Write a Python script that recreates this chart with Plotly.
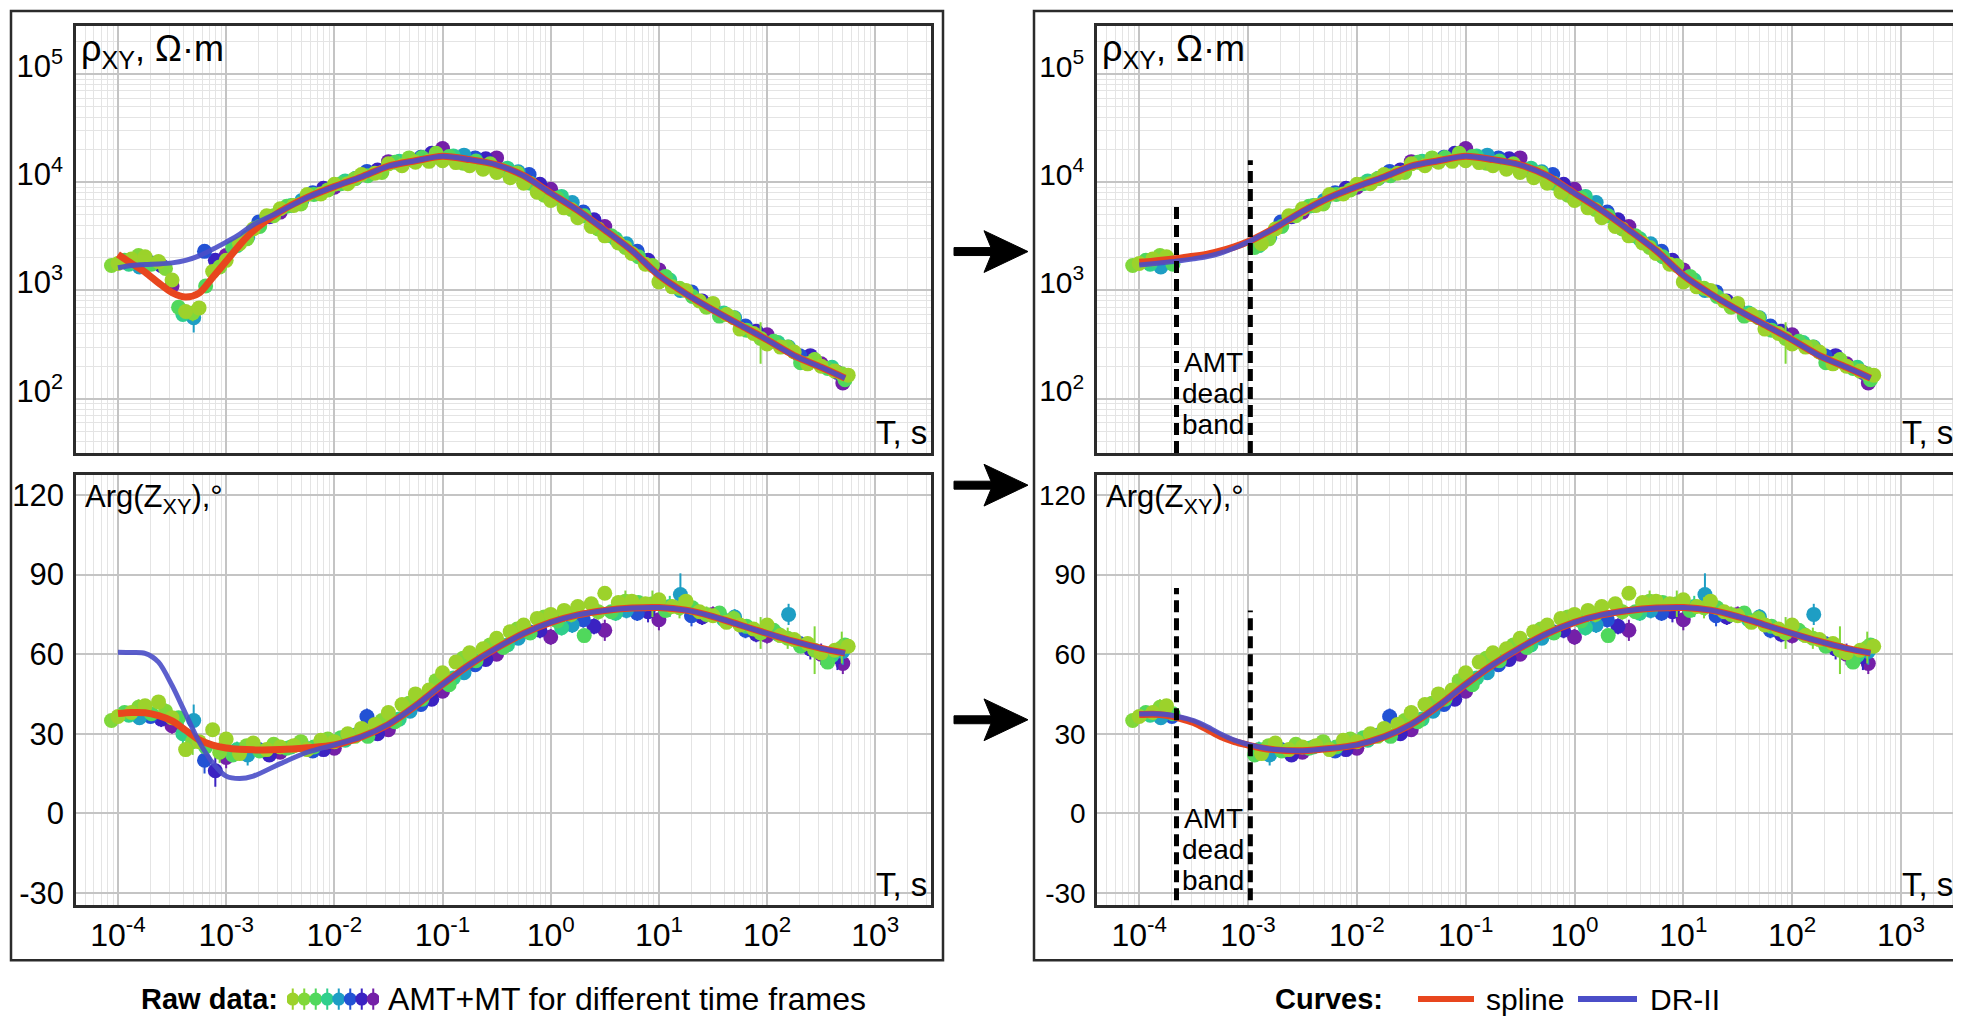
import numpy as np
import plotly.graph_objects as go

FIG_W, FIG_H = 1961, 1017
FONT = "Liberation Sans, Arial, Helvetica, sans-serif"

# ---------------- smooth curves (spline = red, DR-II = blue) ----------------
T_curve = [1.00e-4, 1.33e-4, 1.78e-4, 2.37e-4, 3.16e-4, 4.22e-4, 5.62e-4, 7.50e-4,
           1.00e-3, 1.33e-3, 1.78e-3, 3.16e-3, 5.62e-3, 1.00e-2, 1.78e-2, 3.16e-2,
           5.62e-2, 0.1, 0.178, 0.316, 0.562, 1.0, 1.78, 3.16, 5.62, 10.0, 17.8,
           31.6, 56.2, 100.0, 178.0, 316.0, 525.0]

rho_short_spline_left = [2160, 1780, 1480, 1175, 955, 870, 945, 1320, 1860, 2630, 3550]
rho_short_dr_left = [1620, 1700, 1740, 1760, 1800, 1900, 2090, 2400, 2800, 3300, 4050]
rho_short_spline_right = [1820, 1860, 1920, 1990, 2070, 2170, 2320, 2530, 2820, 3250, 3800]
rho_short_dr_right = [1720, 1770, 1820, 1880, 1960, 2060, 2220, 2470, 2800, 3250, 3800]
rho_long = [5370, 7240, 9120, 11200, 14100, 15800, 17400, 16200, 14500, 11500, 7940,
            5500, 3630, 2340, 1380, 930, 660, 480, 350, 250, 195, 155]

phi_short_spline_left = [37.6, 38.0, 37.9, 36.8, 34.8, 31.3, 27.7, 25.7, 24.6, 24.1, 23.9, 24.0, 24.7, 25.8]
phi_short_dr_left = [60.7, 60.6, 60.3, 57.0, 48.2, 37.5, 27.0, 19.0, 14.0, 13.1, 14.0, 18.7, 23.0, 25.8]
phi_short_spline_right = [37.2, 37.3, 36.9, 35.8, 34.2, 31.6, 28.9, 27.0, 25.7, 24.6, 23.9, 23.6, 24.4, 25.8]
phi_short_dr_right = [37.4, 37.5, 37.2, 36.3, 34.9, 32.6, 29.9, 27.6, 26.0, 24.8, 24.0, 23.6, 24.4, 25.8]
phi_long = [28.8, 33.5, 40.5, 48.6, 56.0, 62.3, 67.8, 72.0, 74.8, 76.5, 77.4, 77.6,
            76.6, 74.2, 71.0, 67.8, 64.8, 62.2, 60.4]

# ---------------- raw data: AMT+MT for different time frames ----------------
T1 = [1.00e-4, 1.33e-4, 1.78e-4, 2.37e-4, 3.16e-4, 4.22e-4, 5.62e-4, 7.50e-4,
      1.00e-3, 1.33e-3, 1.78e-3, 2.37e-3, 3.16e-3, 4.22e-3, 5.62e-3, 7.50e-3,
      0.0100, 0.0133, 0.0178, 0.0237, 0.0316, 0.0422, 0.0562, 0.0750,
      0.100, 0.133, 0.178, 0.237, 0.316, 0.422, 0.562, 0.750,
      1.00, 1.33, 1.78, 2.37, 3.16, 4.22, 5.62, 7.50,
      10.0, 13.3, 17.8, 23.7, 31.6, 42.2, 56.2, 75.0,
      100, 133, 178, 237, 316, 422, 562]
rho1 = [1780, 1950, 2050, 1850, 1250, 640, 690, 1500,
        1900, 2700, 3700, 4900, 5700, 6100, 7700, 7800,
        9600, 9700, 11800, 12100, 14800, 14200, 15300, 15600,
        15800, 15200, 14200, 13200, 12300, 11000, 9800, 8100,
        6800, 5800, 4700, 3900, 3200, 2750, 2200, 1750,
        1200, 1080, 1000, 800, 760, 600, 440, 400,
        320, 300, 270, 210, 200, 180, 165]
phi1 = [36.5, 38.0, 40.5, 42.0, 36.0, 24.0, 27.0, 31.5,
        28.0, 22.5, 26.5, 24.0, 25.0, 25.5, 24.0, 27.5,
        27.0, 30.0, 32.0, 33.5, 38.0, 41.0, 45.0, 46.5,
        53.0, 57.0, 60.5, 62.0, 66.0, 68.5, 71.0, 73.5,
        75.0, 76.5, 78.0, 79.0, 83.0, 79.5, 80.0, 79.0,
        80.5, 78.0, 80.0, 76.0, 74.5, 72.0, 71.0, 69.5,
        71.0, 67.0, 65.5, 64.0, 60.5, 61.5, 63.0]

T2 = [8.71e-5, 1.55e-4, 2.75e-4, 4.90e-4, 8.71e-4, 1.55e-3, 2.75e-3, 4.90e-3, 8.71e-3,
      0.0155, 0.0275, 0.0490, 0.0871, 0.155, 0.275, 0.490, 0.871, 1.55, 2.75, 4.90,
      8.71, 15.5, 27.5, 49.0, 87.1, 155, 275, 490]
rho2 = [1700, 2100, 1600, 620, 1650, 3000, 4900, 6300, 8500, 10800, 12300, 16800, 18500,
        15000, 14800, 12200, 7600, 5600, 3700, 2500, 1700, 1050, 700, 560, 360, 300, 230, 170]
phi2 = [35.0, 40.0, 38.5, 27.0, 23.0, 25.5, 26.0, 27.0, 28.0, 29.0, 35.0, 41.5, 50.0,
        58.5, 63.5, 69.5, 74.0, 75.0, 76.0, 80.0, 79.0, 77.5, 75.0, 73.5, 68.0, 66.0, 61.5, 62.5]
rho_err2 = [150, 150, 150, 100, 200, 300, 400, 500, 600, 700, 800, 900, 1000, 900, 800,
            600, 400, 300, 200, 120, 80, 50, 35, 60, 150, 25, 40, 25]
phi_err2 = [2, 3, 3, 5, 4, 2, 2, 2, 2, 2, 2, 2, 2, 2, 2, 2, 2, 3, 3, 4, 5, 4, 3, 3, 6, 4, 9, 6]

T3 = [1.15e-4, 2.04e-4, 3.63e-4, 6.46e-4, 1.15e-3, 2.04e-3, 3.63e-3, 6.46e-3, 0.0115,
      0.0204, 0.0363, 0.0646, 0.115, 0.204, 0.363, 0.646, 1.15, 2.04, 3.63, 6.46,
      11.5, 20.4, 36.3, 64.6, 115, 204, 363, 525]
rho3 = [1900, 1750, 700, 1100, 2500, 3900, 6000, 7700, 9700, 11500, 15300, 16900, 17300,
        15700, 13000, 9800, 7100, 4900, 3200, 2050, 1350, 880, 580, 430, 340, 215, 190, 150]
phi3 = [38.0, 37.5, 36.0, 25.0, 22.0, 23.5, 24.5, 25.0, 28.5, 29.0, 34.5, 43.0, 48.5,
        57.5, 62.5, 68.0, 72.5, 67.0, 76.0, 79.5, 76.5, 77.5, 75.5, 70.5, 69.0, 63.0, 57.0, 63.5]

T4 = [1.26e-4, 3.98e-4, 1.26e-3, 3.98e-3, 0.0126, 0.0398, 0.126, 0.398, 1.26, 3.98, 12.6, 39.8, 126, 398]
rho4 = [1750, 600, 2600, 6100, 10300, 15600, 17500, 13500, 7400, 3000, 1250, 620, 330, 195]
phi4 = [37.0, 30.0, 24.0, 25.0, 27.5, 35.5, 51.0, 63.5, 70.0, 75.5, 78.0, 73.0, 67.5, 59.5]
rho_err4 = [80, 60, 150, 300, 400, 600, 700, 600, 400, 150, 80, 60, 40, 30]
phi_err4 = [2, 4, 3, 2, 2, 2, 2, 2, 3, 3, 4, 3, 3, 4]

T5 = [1.58e-4, 5.01e-4, 1.58e-3, 5.01e-3, 0.0158, 0.0501, 0.158, 0.501, 1.58, 5.01, 15.8, 50.1, 158, 501]
rho5 = [1650, 560, 3100, 6800, 10900, 16200, 17800, 12500, 6500, 2700, 1000, 560, 300, 165]
phi5 = [36.0, 35.0, 22.0, 26.0, 29.5, 38.5, 53.0, 66.0, 71.0, 76.5, 82.5, 74.0, 75.0, 61.0]
rho_err5 = [100, 150, 200, 300, 400, 700, 800, 600, 300, 150, 80, 40, 30, 20]
phi_err5 = [2, 6, 4, 2, 2, 2, 2, 2, 3, 3, 8, 3, 4, 5]

T6 = [2.00e-4, 6.31e-4, 2.00e-3, 6.31e-3, 0.0200, 0.0631, 0.200, 0.631, 2.00, 6.31, 20.0, 63.1, 200]
rho6 = [1800, 2300, 4300, 8000, 12600, 17000, 16800, 11800, 5300, 2300, 970, 470, 250]
phi6 = [36.5, 20.0, 24.0, 23.5, 36.5, 41.0, 56.0, 68.5, 73.0, 75.5, 74.5, 69.0, 64.0]
rho_err6 = [100, 300, 300, 400, 500, 800, 800, 600, 300, 150, 60, 40, 25]
phi_err6 = [2, 5, 3, 2, 3, 2, 2, 2, 3, 3, 4, 3, 3]

T7 = [2.51e-4, 7.94e-4, 2.51e-3, 7.94e-3, 0.0251, 0.0794, 0.251, 0.794, 2.51, 7.94, 25.1, 79.4, 251, 447]
rho7 = [1700, 1900, 4800, 8800, 13000, 18500, 16500, 9600, 4500, 1900, 800, 420, 250, 175]
phi7 = [35.5, 16.0, 22.0, 24.0, 30.0, 43.0, 58.0, 69.0, 70.5, 76.0, 74.0, 67.5, 62.0, 59.0]
rho_err7 = [100, 250, 300, 500, 700, 900, 800, 500, 250, 100, 50, 30, 25, 20]
phi_err7 = [3, 6, 2, 2, 2, 2, 2, 3, 3, 4, 3, 3, 4, 5]

T8 = [3.16e-4, 1.00e-3, 3.16e-3, 0.0100, 0.0316, 0.100, 0.316, 1.00, 3.16, 10.0, 31.6, 100, 316, 501]
rho8 = [1100, 2100, 5300, 9000, 15500, 20500, 16800, 8600, 3900, 1550, 720, 390, 210, 140]
phi8 = [33.0, 21.0, 23.0, 24.5, 31.5, 46.0, 60.0, 66.5, 69.0, 73.0, 75.0, 67.0, 60.0, 56.5]
rho_err8 = [100, 200, 300, 500, 800, 1000, 900, 500, 250, 100, 50, 30, 20, 15]
phi_err8 = [3, 4, 2, 2, 2, 2, 2, 3, 4, 4, 3, 3, 4, 4]

frame_colors = ["#9CD22B", "#80D83A", "#50D85C", "#2FCF8C", "#1E9EC4", "#2352D4", "#3B22C2", "#7420A8"]

DEAD_BAND = (2.2e-4, 1.05e-3)   # AMT dead band, s

x_tick_vals = [1e-4, 1e-3, 1e-2, 1e-1, 1e0, 1e1, 1e2, 1e3]
x_tick_text = ["10<sup>-4</sup>", "10<sup>-3</sup>", "10<sup>-2</sup>", "10<sup>-1</sup>",
               "10<sup>0</sup>", "10<sup>1</sup>", "10<sup>2</sup>", "10<sup>3</sup>"]
rho_tick_vals = [1e2, 1e3, 1e4, 1e5]
rho_tick_text = ["10<sup>2</sup>", "10<sup>3</sup>", "10<sup>4</sup>", "10<sup>5</sup>"]
phi_tick_vals = [-30, 0, 30, 60, 90, 120]
phi_tick_text = ["-30", "0", "30", "60", "90", "120"]

# ---------------- assemble ----------------
frames = [
    dict(T=T1, rho=rho1, phi=phi1, rho_err=None, phi_err=None),
    dict(T=T2, rho=rho2, phi=phi2, rho_err=rho_err2, phi_err=phi_err2),
    dict(T=T3, rho=rho3, phi=phi3, rho_err=None, phi_err=None),
    dict(T=T4, rho=rho4, phi=phi4, rho_err=rho_err4, phi_err=phi_err4),
    dict(T=T5, rho=rho5, phi=phi5, rho_err=rho_err5, phi_err=phi_err5),
    dict(T=T6, rho=rho6, phi=phi6, rho_err=rho_err6, phi_err=phi_err6),
    dict(T=T7, rho=rho7, phi=phi7, rho_err=rho_err7, phi_err=phi_err7),
    dict(T=T8, rho=rho8, phi=phi8, rho_err=rho_err8, phi_err=phi_err8),
]

RED = "#E8461E"
BLUE = "#4B4EC8"
MAJ = "#C4C4C4"
MIN = "#E4E4E4"
DARK = "#2b2b2b"


def px_x(x):
    return x / FIG_W


def px_y(y):
    return 1 - y / FIG_H


fig = go.Figure()


def add_raw(xa_top, ya_top, xa_bot, ya_bot, exclude_dead):
    for i in reversed(range(len(frames))):
        fr = frames[i]
        col = frame_colors[i]
        keep = [k for k, t in enumerate(fr["T"])
                if not (exclude_dead and DEAD_BAND[0] < t < DEAD_BAND[1])]
        T = [fr["T"][k] for k in keep]
        for xa, ya, key, ekey in ((xa_top, ya_top, "rho", "rho_err"), (xa_bot, ya_bot, "phi", "phi_err")):
            vals = [fr[key][k] for k in keep]
            kw = {}
            if fr[ekey] is not None:
                kw["error_y"] = dict(type="data", array=[fr[ekey][k] for k in keep],
                                     color=col, thickness=2, width=0)
            fig.add_trace(go.Scatter(x=T, y=vals, mode="markers",
                                     marker=dict(size=15, color=col, line=dict(width=0)),
                                     xaxis=xa, yaxis=ya, showlegend=False, hoverinfo="skip", **kw))


def add_curves(xa, ya, red_vals, blue_vals):
    fig.add_trace(go.Scatter(x=T_curve, y=red_vals, mode="lines",
                             line=dict(color=RED, width=7, shape="spline", smoothing=0.8),
                             xaxis=xa, yaxis=ya, showlegend=False, hoverinfo="skip"))
    fig.add_trace(go.Scatter(x=T_curve, y=blue_vals, mode="lines", opacity=0.9,
                             line=dict(color=BLUE, width=5, shape="spline", smoothing=0.8),
                             xaxis=xa, yaxis=ya, showlegend=False, hoverinfo="skip"))


# left column: all raw data
add_raw("x", "y", "x3", "y3", False)
add_curves("x", "y", rho_short_spline_left + rho_long, rho_short_dr_left + rho_long)
add_curves("x3", "y3", phi_short_spline_left + phi_long, phi_short_dr_left + phi_long)

# right column: dead band removed
add_raw("x2", "y2", "x4", "y4", True)
add_curves("x2", "y2", rho_short_spline_right + rho_long, rho_short_dr_right + rho_long)
add_curves("x4", "y4", phi_short_spline_right + phi_long, phi_short_dr_right + phi_long)

# dead band dashed lines
rho_line_tops = [6100, 16000]
phi_line_tops = [85.0, 76.5]
for t, top_r, top_p in zip(DEAD_BAND, rho_line_tops, phi_line_tops):
    fig.add_trace(go.Scatter(x=[t, t], y=[10, top_r], mode="lines",
                             line=dict(color="black", width=5, dash="12px,6px"),
                             xaxis="x2", yaxis="y2", showlegend=False, hoverinfo="skip"))
    fig.add_trace(go.Scatter(x=[t, t], y=[-60, top_p], mode="lines",
                             line=dict(color="black", width=5, dash="12px,6px"),
                             xaxis="x4", yaxis="y4", showlegend=False, hoverinfo="skip"))

# legend markers (raw data colours)
for i, col in enumerate(frame_colors):
    fig.add_trace(go.Scatter(x=[i], y=[0], mode="markers",
                             marker=dict(size=13, color=col),
                             error_y=dict(type="data", array=[1.0], color=col, thickness=2, width=0),
                             xaxis="x5", yaxis="y5", showlegend=False, hoverinfo="skip"))


def minor_vals(lo, hi):
    out = []
    for d in range(lo, hi):
        for m in range(2, 10):
            out.append(m * 10.0 ** d)
    return out


LEFT_DOM = [px_x(68), px_x(923)]
RIGHT_DOM = [px_x(1089), px_x(1949)]
TOP_DOM = [px_y(448), px_y(18)]
BOT_DOM = [px_y(902), px_y(470)]


def tfont(size):
    return dict(family=FONT, size=size, color="black")


def xaxis_cfg(domain, anchor, labels):
    return dict(type="log", range=[-4.388, 3.515], domain=domain, anchor=anchor,
                showgrid=True, gridcolor=MAJ, gridwidth=1.5, zeroline=False,
                showline=True, mirror=True, linecolor=DARK, linewidth=2.5,
                tickmode="array", tickvals=x_tick_vals, ticktext=x_tick_text,
                showticklabels=labels, ticks="", tickfont=tfont(32),
                minor=dict(tickmode="array", tickvals=minor_vals(-5, 4), showgrid=True,
                           gridcolor=MIN, gridwidth=1, ticks=""))


def rho_axis_cfg(domain, anchor, size):
    return dict(type="log", range=[1.495, 5.445], domain=domain, anchor=anchor,
                showgrid=True, gridcolor=MAJ, gridwidth=1.5, zeroline=False,
                showline=True, mirror=True, linecolor=DARK, linewidth=2.5,
                tickmode="array", tickvals=rho_tick_vals, ticktext=rho_tick_text,
                ticks="", tickfont=tfont(size), ticklabelshift=-8, ticklabelstandoff=4,
                minor=dict(tickmode="array", tickvals=minor_vals(1, 6), showgrid=True,
                           gridcolor=MIN, gridwidth=1, ticks=""))


def phi_axis_cfg(domain, anchor, size):
    return dict(range=[-34.5, 127.5], domain=domain, anchor=anchor,
                showgrid=True, gridcolor=MAJ, gridwidth=1.5, zeroline=False,
                showline=True, mirror=True, linecolor=DARK, linewidth=2.5,
                tickmode="array", tickvals=phi_tick_vals, ticktext=phi_tick_text,
                ticks="", tickfont=tfont(size), ticklabelstandoff=3)


fig.update_layout(
    width=FIG_W, height=FIG_H, margin=dict(l=0, r=0, t=0, b=0),
    paper_bgcolor="white", plot_bgcolor="white", showlegend=False,
    font=dict(family=FONT, color="black"),
    xaxis=xaxis_cfg(LEFT_DOM, "y", False),
    yaxis=rho_axis_cfg(TOP_DOM, "x", 31),
    xaxis2=xaxis_cfg(RIGHT_DOM, "y2", False),
    yaxis2=rho_axis_cfg(TOP_DOM, "x2", 30),
    xaxis3=xaxis_cfg(LEFT_DOM, "y3", True),
    yaxis3=phi_axis_cfg(BOT_DOM, "x3", 31),
    xaxis4=xaxis_cfg(RIGHT_DOM, "y4", True),
    yaxis4=phi_axis_cfg(BOT_DOM, "x4", 28),
    xaxis5=dict(domain=[px_x(279), px_x(371)], range=[-0.5, 7.5], visible=False, anchor="y5"),
    yaxis5=dict(domain=[px_y(1011), px_y(983)], range=[-1.3, 1.3], visible=False, anchor="x5"),
)

# outer frames and arrows
shapes = []
for x0, x1 in ((3, 935), (1026, 1958)):
    shapes.append(dict(type="rect", xref="paper", yref="paper",
                       x0=px_x(x0), x1=px_x(x1), y0=px_y(958), y1=px_y(3),
                       line=dict(color=DARK, width=2.5), layer="above"))
for yc in (245, 480, 716):
    pts = [(946, yc - 4), (983, yc - 4), (976, yc - 21), (1020, yc),
           (976, yc + 21), (983, yc + 4), (946, yc + 4)]
    path = "M " + " L ".join(f"{px_x(a):.5f},{px_y(b):.5f}" for a, b in pts) + " Z"
    shapes.append(dict(type="path", xref="paper", yref="paper", path=path,
                       fillcolor="black", line=dict(color="black", width=1)))
# curve legend line samples
LEG_Y = 997
for (x0, x1), col in (((1410, 1466), RED), ((1570, 1629), BLUE)):
    shapes.append(dict(type="line", xref="paper", yref="paper",
                       x0=px_x(x0), x1=px_x(x1), y0=px_y(LEG_Y), y1=px_y(LEG_Y),
                       line=dict(color=col, width=6)))
fig.update_layout(shapes=shapes)

ann = []
for xa, ya in (("x", "y"), ("x2", "y2")):
    ann.append(dict(xref=f"{xa} domain", yref=f"{ya} domain", x=0.004, y=1.0,
                    xanchor="left", yanchor="top", showarrow=False,
                    text="ρ<sub>XY</sub>, Ω·m", font=dict(family=FONT, size=36)))
for xa, ya in (("x3", "y3"), ("x4", "y4")):
    ann.append(dict(xref=f"{xa} domain", yref=f"{ya} domain", x=0.008, y=0.995,
                    xanchor="left", yanchor="top", showarrow=False,
                    text="Arg(Z<sub>XY</sub>),°", font=dict(family=FONT, size=31)))
for xa, ya in (("x", "y"), ("x2", "y2"), ("x3", "y3"), ("x4", "y4")):
    ann.append(dict(xref=f"{xa} domain", yref=f"{ya} domain", x=0.998, y=0.0,
                    xanchor="right", yanchor="bottom", showarrow=False,
                    text="T, s", font=dict(family=FONT, size=33)))
band_mid = (np.log10(DEAD_BAND[0]) + np.log10(DEAD_BAND[1])) / 2
band_words = ["AMT", "dead", "band"]
for xa, ya, ys in (("x2", "y2", [0.212, 0.14, 0.068]), ("x4", "y4", [0.20, 0.128, 0.056])):
    for word, yy in zip(band_words, ys):
        ann.append(dict(xref=xa, yref=f"{ya} domain", x=band_mid, y=yy,
                        xanchor="center", yanchor="middle", showarrow=False,
                        text=word, font=dict(family=FONT, size=28)))
# bottom legends
leg_y = px_y(LEG_Y)
ann += [
    dict(xref="paper", yref="paper", x=px_x(272), y=leg_y, xanchor="right", yanchor="middle",
         showarrow=False, text="<b>Raw data:</b>", font=dict(family=FONT, size=29)),
    dict(xref="paper", yref="paper", x=px_x(378), y=leg_y, xanchor="left", yanchor="middle",
         showarrow=False, text="AMT+MT for different time frames", font=dict(family=FONT, size=32)),
    dict(xref="paper", yref="paper", x=px_x(1377), y=leg_y, xanchor="right", yanchor="middle",
         showarrow=False, text="<b>Curves:</b>", font=dict(family=FONT, size=29)),
    dict(xref="paper", yref="paper", x=px_x(1476), y=leg_y, xanchor="left", yanchor="middle",
         showarrow=False, text="spline", font=dict(family=FONT, size=30)),
    dict(xref="paper", yref="paper", x=px_x(1640), y=leg_y, xanchor="left", yanchor="middle",
         showarrow=False, text="DR-II", font=dict(family=FONT, size=30)),
]
fig.update_layout(annotations=ann)

fig.write_html("out.html")
